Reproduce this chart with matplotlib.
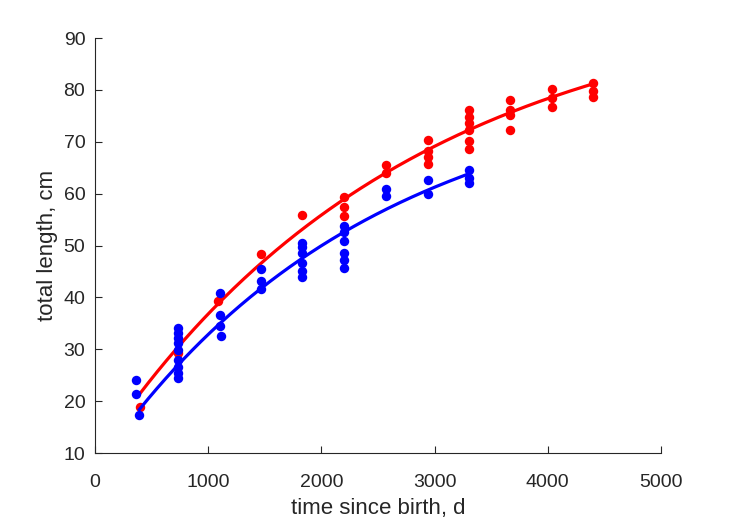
import numpy as np
import matplotlib
matplotlib.use('Agg')
import matplotlib.pyplot as plt

plt.rcParams['font.family'] = ['Liberation Sans', 'DejaVu Sans']

# red group: age (d) and total length (cm)
red_t = [395, 730,
         1090,
         1470,
         1830,
         2200, 2200, 2200,
         2570, 2570,
         2940, 2940, 2940, 2940,
         3300, 3300, 3300, 3300, 3300, 3300,
         3670, 3670, 3670, 3670,
         4040, 4040, 4040,
         4400, 4400, 4400]
red_len = [18.9, 29.3,
           39.3,
           48.4,
           55.8,
           59.4, 57.4, 55.7,
           65.5, 63.9,
           70.3, 68.3, 67.0, 65.8,
           76.2, 74.8, 73.6, 72.3, 70.1, 68.6,
           78.1, 76.1, 75.1, 72.3,
           80.2, 78.4, 76.7,
           81.3, 79.8, 78.7]

# blue group
blue_t = [365, 365, 390,
          730, 730, 730, 730, 730, 730, 730, 730, 730,
          1100, 1100, 1100, 1110,
          1470, 1470, 1470,
          1830, 1830, 1830, 1830, 1830, 1830,
          2200, 2200, 2200, 2200, 2200, 2200,
          2570, 2570,
          2940, 2940,
          3300, 3300, 3300]
blue_len = [24.1, 21.3, 17.4,
            34.1, 33.1, 32.2, 31.2, 29.9, 27.9, 26.6, 25.4, 24.4,
            40.9, 36.6, 34.5, 32.6,
            45.5, 43.1, 41.6,
            50.5, 49.7, 48.5, 46.6, 45.0, 44.0,
            53.8, 52.6, 50.8, 48.6, 47.2, 45.6,
            60.8, 59.5,
            62.6, 60.0,
            64.6, 63.0, 62.1]

# growth curves (age, length)
red_curve_t = [392, 730, 1148, 1475, 1943, 2191, 2580, 2783, 2959, 3295, 3666, 4037, 4400]
red_curve_len = [21.2, 30.0, 40.8, 46.8, 54.9, 59.2, 63.8, 66.1, 68.8, 71.9, 75.5, 79.0, 81.3]
blue_curve_t = [392, 730, 1130, 1475, 1830, 2120, 2580, 2933, 3295]
blue_curve_len = [18.3, 27.0, 35.6, 41.8, 47.2, 52.0, 57.0, 60.3, 64.0]


def vb_fit(t, L):
    # von Bertalanffy L = a + b*exp(-k t): grid over k, least squares for a, b
    t = np.asarray(t, float)
    L = np.asarray(L, float)
    best = None
    for k in np.linspace(1e-5, 2e-3, 2000):
        A = np.column_stack([np.ones_like(t), np.exp(-k * t)])
        coef, *_ = np.linalg.lstsq(A, L, rcond=None)
        err = np.sum((A @ coef - L) ** 2)
        if best is None or err < best[0]:
            best = (err, k, coef)
    _, k, (a, b) = best
    return lambda x: a + b * np.exp(-k * x)


fig = plt.figure(figsize=(7.29, 5.21), dpi=100)
ax = fig.add_axes([0.1303, 0.1305, 0.7764, 0.7965])

groups = [(red_t, red_len, red_curve_t, red_curve_len, (1, 0, 0)),
          (blue_t, blue_len, blue_curve_t, blue_curve_len, (0, 0, 1))]
for t, L, ct, cl, c in groups:
    ax.plot(t, L, 'o', color=c, markersize=6.8, markeredgewidth=0)
    f = vb_fit(ct, cl)
    xs = np.linspace(min(ct), max(ct), 300)
    ax.plot(xs, f(xs), '-', color=c, linewidth=2.3)

ax.set_xlim(0, 5000)
ax.set_ylim(10, 90)
ax.set_xticks(range(0, 5001, 1000))
ax.set_yticks(range(10, 91, 10))
ax.spines['top'].set_visible(False)
ax.spines['right'].set_visible(False)
for s in ['left', 'bottom']:
    ax.spines[s].set_color('#262626')
    ax.spines[s].set_linewidth(0.8)
ax.tick_params(direction='in', length=5, width=0.8, colors='#262626',
               labelsize=14)
ax.tick_params(axis='x', pad=15)
ax.tick_params(axis='y', pad=7)
ax.set_xlabel('time since birth, d', fontsize=16, color='#262626', labelpad=5)
ax.set_ylabel('total length, cm', fontsize=16, color='#262626', labelpad=4)

fig.savefig('out.png', dpi=100)
